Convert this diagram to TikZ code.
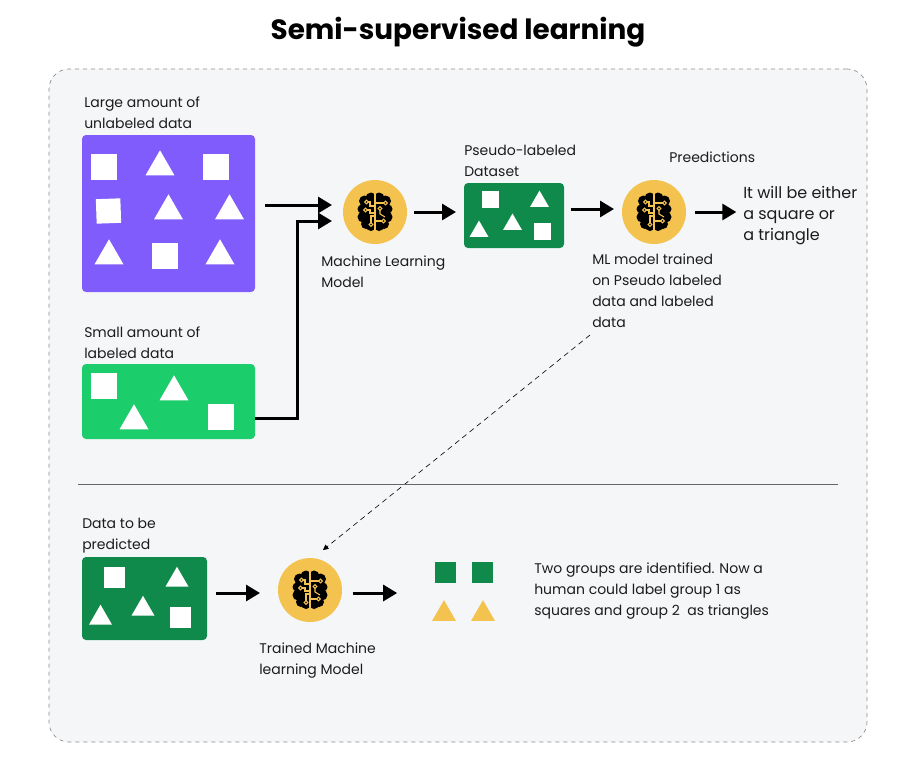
\documentclass[tikz,border=0pt]{standalone}
\usepackage{fontspec}
\setmainfont{Poppins}
\usetikzlibrary{%
  arrows.meta,%
  positioning,%
  shapes.geometric%
}
\definecolor{panelbg}{HTML}{F5F6F8}
\definecolor{purplebox}{HTML}{7F5CFB}
\definecolor{lightgreen}{HTML}{1CCD6C}
\definecolor{darkgreen}{HTML}{0F8A4A}
\definecolor{brainyellow}{HTML}{F4C24F}
\definecolor{inkgrey}{HTML}{1C1C1C}

\tikzset{
  sq/.style = {shape=rectangle, fill=white, inner sep=0pt, outer sep=0pt,
    minimum size=#1*0.75pt},
  tri/.style = {shape=regular polygon, regular polygon sides=3, fill=white,
    inner sep=0pt, outer sep=0pt, minimum size=#1*0.866pt},
  databox/.style = {shape=rectangle, rounded corners=3pt, inner sep=0pt, outer sep=0pt},
  brainnode/.style = {shape=circle, fill=brainyellow, inner sep=0pt, outer sep=0pt,
    minimum size=64*0.75pt},
  lbl/.style = {anchor=west, align=left, inner sep=0pt, text=inkgrey,
    font=\fontsize{10.5}{15.75}\selectfont},
  flow/.style = {line width=2.25pt, -{Triangle[length=10.5pt,width=12pt]}},
  brainicon/.pic = {
    \foreach \side in {1,-1} {
      \begin{scope}[xscale=\side]
        \foreach \bx/\by/\br in {4/-14/5.5, 10.5/-11/5.5, 13/-3/4.5, 12/5/5.5, 9/12/5, 4/14/5, 7/0/7, 6/-7/6, 6/7/6}
          \fill[black] (\bx,\by) circle (\br);
      \end{scope}
    }
    \draw[brainyellow, line width=1pt] (0,-20) -- (0,20);
    \begin{scope}[brainyellow, line width=.8pt, fill=black]
      \draw (-1,-6) -- (-5,-6) -- (-5,-10) -- (-7,-10);
      \draw (-1,1) -- (-5,1) -- (-5,-2) -- (-8,-2);
      \draw (-1,4) -- (-4,4) -- (-4,11);
      \draw (1,-9) -- (9,-9);
      \draw (1,9) -- (4,9) -- (7,9);
      \draw (5,-2) -- (5,2) -- (10,5);
      \filldraw (-8.5,-10) circle (1.8);
      \filldraw (-9.5,-2) circle (1.8);
      \filldraw (-4,12.5) circle (1.8);
      \filldraw (10.5,-9) circle (1.8);
      \filldraw (5,-3.5) circle (1.8);
      \filldraw (8.5,9) circle (1.8);
    \end{scope}
  }
}

\begin{document}
\begin{tikzpicture}[x=0.75pt, y=-0.75pt]
  \useasboundingbox (0,0) rectangle (919,783);
  \fill[white] (0,0) rectangle (919,783);
  \node (frame) [shape=rectangle, draw=black!45, dashed, line width=.5pt, fill=panelbg,
    rounded corners=15pt, minimum width=818*0.75pt, minimum height=673*0.75pt,
    inner sep=0pt] at (458,405.5) {};
  \node (title) [inner sep=0pt, font=\fontsize{20.9}{26}\selectfont\bfseries] at (458,32.5)
    {Semi-supervised learning};

  % data boxes
  \node (unlabeled) [databox, fill=purplebox, minimum width=173*0.75pt, minimum height=157*0.75pt] at (168.5,213.5) {};
  \node (labeled) [databox, fill=lightgreen, minimum width=173*0.75pt, minimum height=75*0.75pt] at (168.5,401.5) {};
  \node (pseudo) [databox, fill=darkgreen, minimum width=100*0.75pt, minimum height=65*0.75pt] at (514,215.5) {};
  \node (topredict) [databox, fill=darkgreen, minimum width=125*0.75pt, minimum height=83*0.75pt] at (144.5,598.5) {};

  % squares and triangles
  \foreach \i/\px/\py/\s in {1/104/167/26, 2/216/167/26, 3/165/255.5/26}
    \node (purplesq\i) [sq=\s] at (\px,\py) {};
  \node (purplesq4) [sq=24.5, rotate=2] at (108.5,211) {};
  \foreach \i/\px/\py in {1/160/167, 2/168.5/211, 3/229.5/211, 4/109/256, 5/220/256}
    \node (purpletri\i) [tri=29] at (\px,\py) {};

  \foreach \i/\px/\py in {1/104/386, 2/221/417}
    \node (greensq\i) [sq=26] at (\px,\py) {};
  \foreach \i/\px/\py in {1/174/392, 2/134/421}
    \node (greentri\i) [tri=29] at (\px,\py) {};

  \foreach \i/\px/\py in {1/490/199, 2/542/231}
    \node (pseudosq\i) [sq=17] at (\px,\py) {};
  \foreach \i/\px/\py in {1/539.5/201.5, 2/479/231.5, 3/512.5/224.5}
    \node (pseudotri\i) [tri=19] at (\px,\py) {};

  \foreach \i/\px/\py in {1/114.5/577, 2/180/617}
    \node (predictsq\i) [sq=21] at (\px,\py) {};
  \foreach \i/\px/\py in {1/177/580, 2/100.5/618, 3/143/609}
    \node (predicttri\i) [tri=23] at (\px,\py) {};

  \foreach \i/\px in {1/445, 2/482}
    \node (groupsq\i) [sq=21, fill=darkgreen] at (\px,572) {};
  \foreach \i/\px in {1/444, 2/483}
    \node (grouptri\i) [tri=24, fill=brainyellow] at (\px,614) {};

  % brains
  \node (mlmodel) [brainnode] at (375,212) {};
  \node (mltrained) [brainnode] at (654,212) {};
  \node (finalmodel) [brainnode] at (310,590) {};
  \path (mlmodel) pic {brainicon};
  \path (mltrained) pic {brainicon};
  \path (finalmodel) pic {brainicon};

  % labels
  \node (unlabeledtxt) [lbl] at (84,113) {Large amount of\\unlabeled data};
  \node (labeledtxt) [lbl] at (84,343) {Small amount of\\labeled data};
  \node (mlmodeltxt) [lbl] at (321,272) {Machine Learning\\Model};
  \node (pseudotxt) [lbl] at (464,161) {Pseudo-labeled\\Dataset};
  \node (predtxt) [lbl] at (669,157) {Preedictions};
  \node (answertxt) [lbl, font=\fontsize{12}{16}\selectfont] at (743,215.5) {It will be either\\a square or\\a triangle};
  \node (mltrainedtxt) [lbl] at (592,291) {ML model trained\\on Pseudo labeled\\data and labeled\\data};
  \node (topredicttxt) [lbl] at (82,536) {Data to be\\predicted};
  \node (finalmodeltxt) [lbl] at (259,660.5) {Trained Machine\\learning Model};
  \node (groupstxt) [lbl] at (534,591.5) {Two groups are identified. Now a\\human could label group 1 as\\squares and group 2\ \ as triangles};

  % connectors
  \coordinate (mlinA) at (332,205);
  \coordinate (mlinB) at (332,221);
  \coordinate (elbow) at (297,418);
  \coordinate (finalin) at (323,550);
  \coordinate (sepleft) at (78,484);
  \coordinate (sepright) at (838,484);
  \coordinate (toptrained) at (622,209);
  \coordinate (predictrow) at (278,593);
  \coordinate (dashstart) at (590,335);

  \draw[flow, shorten <=7.5pt] (unlabeled.east |- mlinA) -- (mlinA);
  \draw[flow] (labeled.east |- elbow) -- (elbow) -- (elbow |- mlinB) -- (mlinB);
  \draw[flow, shorten <=5.5pt, shorten >=6pt] (mlmodel.east) -- (mlmodel.east -| pseudo.west);
  \draw[flow, shorten <=5pt, shorten >=6pt] (pseudo.east |- toptrained) -- (toptrained);
  \draw[flow, shorten <=7pt, shorten >=5pt] (mltrained.east) -- (mltrained.east -| answertxt.west);
  \draw[flow, shorten <=7pt, shorten >=13.5pt] (topredict.east |- predictrow) -- (predictrow);
  \draw[flow, shorten <=8pt, shorten >=28pt] (finalmodel.east |- predictrow) -- (predictrow -| groupsq1.west);
  \draw[dashed, dash pattern=on 4pt off 3pt, line width=.45pt, -{Triangle[length=4pt,width=4pt]}] (dashstart) -- (finalin);
  \draw[black!60, line width=.6pt] (sepleft) -- (sepright);
\end{tikzpicture}
\end{document}
